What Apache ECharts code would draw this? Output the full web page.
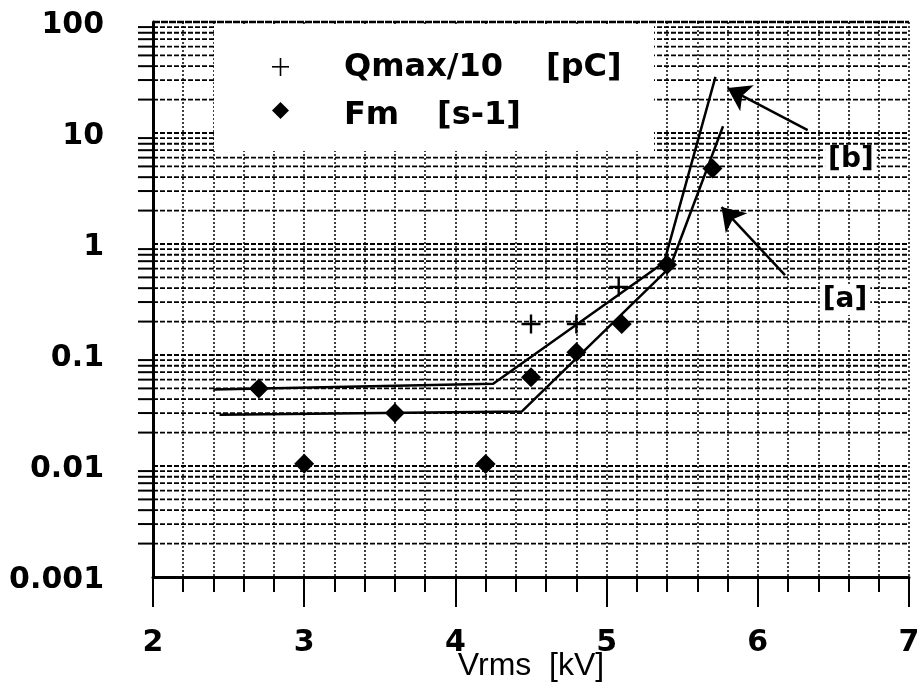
<!DOCTYPE html>
<html><head><meta charset="utf-8">
<script src="https://cdn.jsdelivr.net/npm/echarts@6/dist/echarts.min.js"></script>
<style>html,body{margin:0;padding:0;background:#fff}#c{width:921px;height:686px}</style>
</head><body><div id="c"></div>
<script>
// ---- data ----
const yTickLabels = ['0.001', '0.01', '0.1', '1', '10', '100'];
const xTickLabels = ['2', '3', '4', '5', '6', '7'];
const qmaxVrms = [4.5, 4.8, 5.08];
const qmaxVal = [0.19, 0.19, 0.41];
const fmVrms = [2.7, 3.0, 3.6, 4.2, 4.5, 4.8, 5.1, 5.4, 5.7];
const fmVal = [0.05, 0.0105, 0.030, 0.0104, 0.063, 0.106, 0.19, 0.65, 4.8];
const curveBVrms = [2.40, 4.25, 5.38, 5.72];
const curveBVal = [0.049, 0.055, 0.68, 32];
const curveAVrms = [2.44, 4.44, 5.42, 5.77];
const curveAVal = [0.029, 0.031, 0.62, 11.5];
const arrowB = [[6.33, 10.6], [5.80, 25.4]];
const arrowA = [[6.18, 0.525], [5.76, 2.15]];
const labelB = [6.616, 5.7];
const labelA = [6.577, 0.313];

const zip = (a, b) => a.map((v, i) => [v, b[i]]);
const FONT = '"DejaVu Sans", "Liberation Sans", sans-serif';
const plusPath = 'path://M7,0H9V7H16V9H9V16H7V9H0V7H7Z';

const chart = echarts.init(document.getElementById('c'), null, { renderer: 'canvas' });
const option = {
  animation: false,
  backgroundColor: '#fff',
  grid: { left: 153, right: 12, top: 22, bottom: 109, containLabel: false, outerBoundsMode: 'none' },
  xAxis: {
    type: 'value', min: 2, max: 7, interval: 1,
    axisLine: { show: true, onZero: false, lineStyle: { color: '#000', width: 3 } },
    axisTick: { show: true, length: 30, lineStyle: { color: '#000', width: 2 } },
    minorTick: { show: true, splitNumber: 5, length: 15, lineStyle: { color: '#000', width: 2 } },
    splitLine: { show: true, lineStyle: { color: '#000', width: 1.5, type: [2, 2] } },
    minorSplitLine: { show: true, lineStyle: { color: '#000', width: 1.5, type: [2, 2] } },
    axisLabel: {
      margin: 51, color: '#000', fontFamily: FONT, fontWeight: 'bold', fontSize: 30,
      formatter: v => xTickLabels[Math.round(v) - 2]
    },
    name: 'Vrms  [kV]', nameLocation: 'middle', nameGap: 73, nameMoveOverlap: false,
    nameTextStyle: { color: '#000', fontFamily: '"Liberation Sans", Arial, sans-serif', fontSize: 32 }
  },
  yAxis: {
    type: 'log', logBase: 10, min: 0.001, max: 100, splitNumber: 5,
    axisLine: { show: true, onZero: false, lineStyle: { color: '#000', width: 3 } },
    axisTick: { show: false },
    splitLine: { show: false },
    axisLabel: {
      margin: 49, color: '#000',
      formatter: v => '{t|' + yTickLabels[Math.round(Math.log10(v)) + 3] + '}',
      rich: { t: { fontFamily: FONT, fontWeight: 'bold', fontSize: 30, color: '#000', padding: [6, 0, 0, 0] } }
    }
  },
  series: [
    {
      name: 'curveB', type: 'line', z: 3, data: zip(curveBVrms, curveBVal),
      showSymbol: false, symbol: 'none', lineStyle: { color: '#000', width: 2.5 },
      markLine: {
        silent: true, animation: false, symbol: ['none', 'arrow'], symbolSize: 22,
        label: { show: false },
        itemStyle: { color: '#000' },
        lineStyle: { color: '#000', width: 2.5, type: 'solid' },
        data: [
          [{ coord: arrowB[0] }, { coord: arrowB[1] }],
          [{ coord: arrowA[0] }, { coord: arrowA[1] }]
        ]
      }
    },
    {
      name: 'curveA', type: 'line', z: 3, data: zip(curveAVrms, curveAVal),
      showSymbol: false, symbol: 'none', lineStyle: { color: '#000', width: 2.5 }
    },
    {
      name: 'Qmax/10 [pC]', type: 'scatter', z: 4, data: zip(qmaxVrms, qmaxVal),
      symbol: plusPath, symbolSize: 19, itemStyle: { color: '#000', opacity: 1 }
    },
    {
      name: 'Fm [s-1]', type: 'scatter', z: 4, data: zip(fmVrms, fmVal),
      symbol: 'diamond', symbolSize: 20, itemStyle: { color: '#000', opacity: 1 }
    }
  ]
};
chart.setOption(option);

// ---- log-paper grid lines, minor ticks, legend, annotation labels ----
const p = (x, y) => chart.convertToPixel({ gridIndex: 0 }, [x, y]);
const els = [];
const xl = p(2, 1)[0], xr = p(7, 1)[0];
const yGrid = [];
for (let d = -3; d <= 1; d++) for (let m = 1; m <= 9; m++) yGrid.push({ v: m * Math.pow(10, d), major: m === 1 });
yGrid.push({ v: 100, major: true });
yGrid.forEach(g => {
  const y = p(2, g.v)[1];
  if (g.v > 0.0011) {
    els.push({ type: 'line', silent: true, z: 1,
      shape: { x1: xl, y1: y, x2: xr, y2: y },
      style: { stroke: '#000', lineWidth: g.v > 99 ? 2.4 : 1.8, lineDash: g.v > 99 ? [7, 1] : [5, 2] } });
  }
  if (!g.major) {
    els.push({ type: 'line', silent: true, z: 1,
      shape: { x1: xl - 15, y1: y, x2: xl, y2: y },
      style: { stroke: '#000', lineWidth: 2 } });
  }
});
// legend box
els.push({ type: 'rect', silent: true, z: 10, shape: { x: 214, y: 25, width: 440, height: 126 }, style: { fill: '#fff' } });
els.push({ type: 'rect', silent: true, z: 11, shape: { x: 272, y: 66, width: 17, height: 1.6 }, style: { fill: '#000' } });
els.push({ type: 'rect', silent: true, z: 11, shape: { x: 279.7, y: 58, width: 1.6, height: 18 }, style: { fill: '#000' } });
els.push({ type: 'polygon', silent: true, z: 11,
  shape: { points: [[280.5, 102], [289, 110.5], [280.5, 119], [272, 110.5]] }, style: { fill: '#000' } });
const legText = (t, x, y) => els.push({ type: 'text', silent: true, z: 11, x: x, y: y,
  style: { text: t, fill: '#000', font: 'bold 32px ' + FONT, align: 'left', verticalAlign: 'middle' } });
legText('Qmax/10', 344, 68);
legText('[pC]', 546, 68);
legText('Fm', 344, 116);
legText('[s-1]', 437, 116);
// annotation labels
const annot = (t, c) => {
  const q = p(c[0], c[1]);
  els.push({ type: 'text', silent: true, z: 11, x: q[0], y: q[1],
    style: { text: t, fill: '#000', font: 'bold 28px ' + FONT, align: 'center', verticalAlign: 'middle',
      backgroundColor: '#fff', padding: [1, 3] } });
};
annot('[b]', labelB);
annot('[a]', labelA);
chart.setOption({ graphic: { elements: els } });
</script>
</body></html>
